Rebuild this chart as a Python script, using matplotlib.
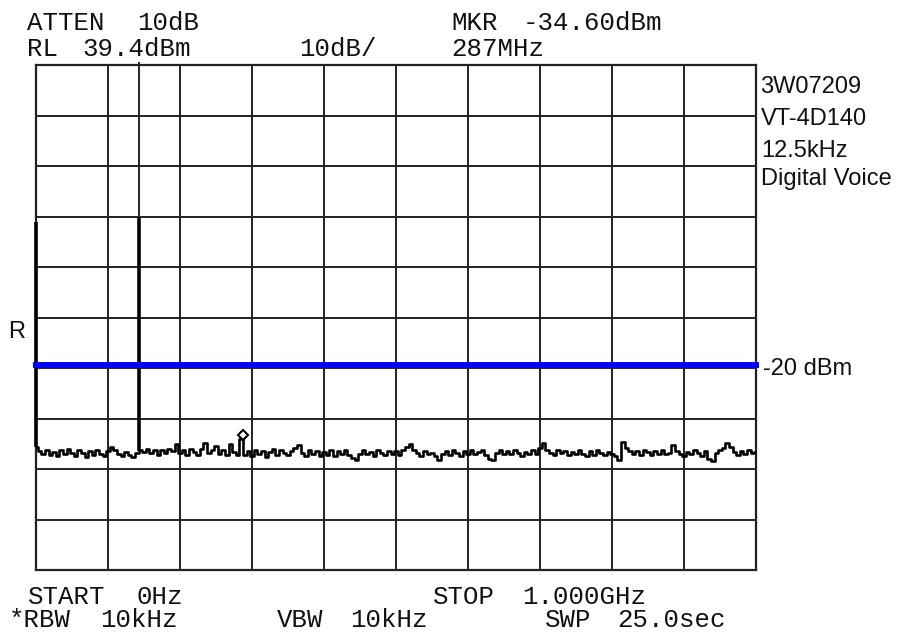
import matplotlib
matplotlib.use("Agg")
import matplotlib.pyplot as plt
import numpy as np
from matplotlib import transforms

# ---------------- data ----------------
start_mhz = 0
stop_mhz = 1000
step_mhz = 5
ref_level_dbm = 39.4
db_per_div = 10
limit_dbm = -20

# discrete signals (frequency MHz, peak level dBm, foot level dBm)
signal_freqs = [0, 143]
signal_peaks = [8.4, 9.3]
signal_feet = [-36.3, -37.0]

marker_freq = 287
marker_level = -34.6

# trace (noise floor), one value every 5 MHz from 0 to 1000 MHz
noise_dbm = [
    -36.3, -37.0, -37.6, -36.9, -37.9, -37.2, -38.1, -36.8, -37.6, -36.7,
    -37.4, -38.0, -36.9, -37.5, -38.2, -37.1, -37.8, -36.8, -37.6, -38.1,
    -37.0, -36.3, -36.9, -37.7, -38.1, -37.2, -37.8, -38.2, -37.4, -36.9,
    -37.3, -36.7, -37.5, -36.9, -37.8, -36.8, -37.4, -36.6, -37.1, -35.6,
    -37.5, -36.9, -37.8, -36.7, -37.3, -37.9, -36.6, -35.5, -37.4, -36.8,
    -36.0, -37.6, -36.9, -37.8, -35.6, -37.3, -37.8, -34.6, -37.9, -37.0,
    -38.1, -36.9, -37.7, -37.1, -38.3, -37.3, -36.7, -37.8, -36.9, -37.5,
    -37.9, -37.1, -36.5, -35.9, -37.4, -38.0, -36.9, -37.7, -37.1, -38.1,
    -37.3, -37.8, -36.8, -38.0, -37.1, -37.7, -36.8, -37.8, -38.5, -38.9,
    -37.7, -36.9, -37.6, -37.2, -38.0, -36.8, -37.5, -37.9, -37.0, -37.6,
    -37.1, -37.8, -36.8, -36.2, -35.7, -36.8, -37.4, -38.0, -37.0, -37.7,
    -37.4, -38.0, -38.8, -37.6, -37.1, -37.8, -36.8, -37.5, -38.0, -37.1,
    -37.6, -36.9, -37.7, -37.2, -36.8, -37.8, -38.6, -38.9, -37.5, -36.9,
    -37.7, -37.0, -37.6, -36.8, -37.4, -38.0, -37.2, -37.7, -36.9, -37.6,
    -36.5, -35.5, -36.8, -37.4, -37.8, -36.9, -37.5, -37.1, -37.9, -37.2,
    -37.7, -36.9, -37.6, -38.0, -37.1, -37.8, -36.8, -37.4, -37.9, -37.2,
    -37.6, -38.0, -38.9, -35.2, -36.4, -37.0, -37.6, -37.1, -37.8, -36.9,
    -37.3, -37.9, -37.1, -37.6, -36.8, -37.7, -37.4, -35.8, -37.0, -37.6,
    -38.0, -37.2, -37.7, -36.9, -37.5, -38.0, -37.1, -38.6, -39.0, -37.4,
    -36.9, -36.4, -35.4, -36.2, -37.3, -37.8, -37.1, -37.6, -36.9, -37.4,
    -37.3,
]

header_words = [
    ("ATTEN", 27, 30), ("10dB", 137, 30),
    ("MKR", 451, 30), ("-34.60dBm", 523, 30),
    ("RL", 27, 56), ("39.4dBm", 82, 56), ("10dB/", 299, 56), ("287MHz", 451, 56),
    ("START", 28, 604), ("0Hz", 137, 604), ("STOP", 433, 604), ("1.000GHz", 522, 604),
    ("*RBW", 9, 627), ("10kHz", 100, 627), ("VBW", 277, 627), ("10kHz", 350, 627),
    ("SWP", 545, 627), ("25.0sec", 617, 627),
]
side_labels = [
    ("3W07209", 760, 93), ("VT-4D140", 761, 125), ("12.5kHz", 761, 157),
    ("Digital Voice", 761, 185), ("-20 dBm", 763, 375), ("R", 8, 338),
]

# ---------------- figure ----------------
W, H = 903, 635
fig = plt.figure(figsize=(W / 100, H / 100), dpi=100)
fig.patch.set_facecolor("white")
ax = fig.add_axes([36 / W, 1 - 570 / H, 720 / W, 505 / H])

ax.set_xlim(start_mhz, stop_mhz)
ax.set_ylim(ref_level_dbm - 10 * db_per_div, ref_level_dbm)
ax.set_xticks(np.linspace(start_mhz, stop_mhz, 11))
ax.set_yticks(ref_level_dbm - db_per_div * np.arange(11))
ax.tick_params(length=0, labelbottom=False, labelleft=False)
ax.grid(True, color="#222222", lw=1.4, zorder=1)
ax.set_axisbelow(True)
for s in ax.spines.values():
    s.set_color("#222222")
    s.set_linewidth(1.6)

freqs = np.arange(start_mhz, stop_mhz + step_mhz, step_mhz)
ax.plot(freqs, noise_dbm, color="black", lw=1.9, drawstyle="steps-mid", zorder=3)

# signals
ax.vlines(signal_freqs, signal_feet, signal_peaks, color="black", lw=2.6,
          zorder=3, clip_on=False)
ax.vlines(signal_freqs[1], signal_peaks[1], ref_level_dbm + 0.6, color="#222222",
          lw=1.4, zorder=2, clip_on=False)

# marker
mk_tr = transforms.offset_copy(ax.transData, fig=fig, x=0, y=4, units="dots")
ax.plot([marker_freq], [marker_level], marker="D", ms=5, mfc="white", mec="black",
        mew=1.5, transform=mk_tr, zorder=5, clip_on=False)

# limit line
ax.axhline(limit_dbm, color="#0000ff", lw=4.3, zorder=4, clip_on=False)

# texts
def ftxt(x, y, s, **kw):
    fig.text(x / W, 1 - y / H, s, ha="left", va="baseline", **kw)

for s, x, y in header_words:
    ftxt(x, y, s, family="Liberation Mono", fontsize=18.5, color="#111111")
for s, x, y in side_labels:
    ftxt(x, y, s, family="Liberation Sans", fontsize=17, color="#111111")

fig.savefig("out.png", dpi=100, facecolor="white")
